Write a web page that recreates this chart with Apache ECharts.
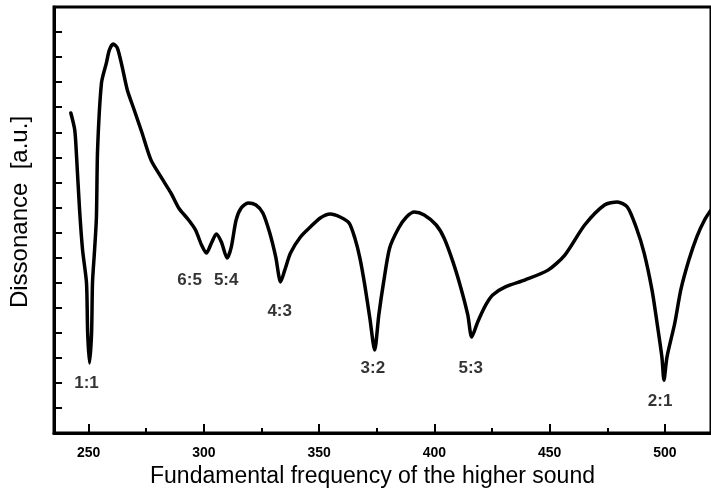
<!DOCTYPE html>
<html>
<head>
<meta charset="utf-8">
<script src="https://cdn.jsdelivr.net/npm/echarts@6/dist/echarts.min.js"></script>
<style>
html, body { margin: 0; padding: 0; background: #fff; }
#chart1 { width: 711px; height: 495px; }
</style>
</head>
<body>
<div id="chart1"></div>
<script>
// curve: fundamental frequency (Hz) and dissonance (a.u.)
var freq = [242.3, 244.0, 244.8, 246.1, 247.4, 249.1, 249.6, 250.4, 251.3, 251.7,
    252.6, 253.4, 253.9, 255.6, 257.7, 259.0, 260.7, 262.5,
    264.6, 266.8, 269.8, 273.2, 277.1, 281.4, 285.7, 289.1, 293.4, 296.4,
    299.0, 301.1, 303.3, 305.4, 307.6, 310.1, 311.9, 314.0, 316.2, 319.2,
    322.6, 325.6, 328.6, 331.2, 333.3, 335.1, 337.6, 341.9, 346.2, 350.5,
    354.8, 359.1, 363.0, 365.5, 367.7, 369.8, 372.0, 374.1, 375.9, 378.0,
    380.6, 384.5, 387.9, 391.3, 395.6, 400.8, 404.2, 408.1, 411.5, 414.5,
    416.2, 418.8, 422.3, 425.3, 430.8, 439.4, 449.3, 456.6, 465.2, 473.8,
    479.4, 483.7, 487.5, 491.0, 494.4, 496.6, 498.7, 499.6, 500.9, 504.3,
    506.9, 510.4, 513.8, 517.2, 520];
var diss = [12.77, 12.09, 11.01, 8.90, 7.30, 5.99, 3.99, 2.79, 3.99, 5.99,
    7.30, 8.60, 11.29, 13.97, 14.76, 15.28, 15.52, 15.36,
    14.60, 13.69, 12.89, 11.97, 10.89, 10.22, 9.58, 8.98, 8.50, 8.10,
    7.50, 7.18, 7.58, 7.94, 7.62, 6.98, 7.42, 8.50, 8.98, 9.18,
    9.10, 8.78, 7.98, 7.02, 6.03, 6.50, 7.18, 7.82, 8.22, 8.58,
    8.74, 8.62, 8.38, 7.78, 6.98, 5.91, 4.59, 3.31, 4.71, 6.03,
    7.38, 8.18, 8.62, 8.82, 8.70, 8.30, 7.78, 6.82, 5.79, 4.71,
    3.83, 4.43, 5.11, 5.51, 5.83, 6.11, 6.50, 7.10, 8.30, 9.10,
    9.22, 9.02, 8.22, 7.18, 5.71, 4.39, 3.03, 2.11, 3.03, 4.39,
    5.71, 6.90, 7.82, 8.50, 8.9];

// interval names and where their labels sit
var ratioNames = ['1:1', '6:5', '5:4', '4:3', '3:2', '5:3', '2:1'];
var ratioX = [249.1, 293.8, 309.7, 332.9, 373.3, 415.8, 497.9];
var ratioY = [1.98, 6.1, 6.1, 4.87, 2.59, 2.59, 1.28];

// x ticks: labelled ones and the small ones between
var majorTicks = [250, 300, 350, 400, 450, 500];
var minorTicks = [275, 325, 375, 425, 475];

var xMin = 235, xMax = 520;
var yMin = 0, yMax = 17;

var dom1 = document.getElementById("chart1");
var myChart1 = echarts.init(dom1);

var curveData = freq.map(function (f, i) { return [f, diss[i]]; });
var labelData = ratioNames.map(function (n, i) {
    return {name: n, value: [ratioX[i], ratioY[i]]};
});

var fontName = 'Liberation Sans';

option = {
    animation: false,
    backgroundColor: '#fff',
    grid: {
        left: 54,
        right: -7,
        top: 7,
        bottom: 62,
        show: true,
        borderColor: '#000',
        borderWidth: 3
    },
    xAxis: [
        {
            type: 'value',
            min: xMin,
            max: xMax,
            name: 'Fundamental frequency of the higher sound',
            nameLocation: 'middle',
            nameGap: 31,
            nameTextStyle: {
                fontFamily: fontName,
                fontSize: 23,
                color: '#000',
                padding: [0, 20, 0, 0]
            },
            axisLine: {lineStyle: {color: '#000', width: 3}},
            axisTick: {inside: true, length: 9, customValues: majorTicks,
                lineStyle: {color: '#000', width: 2}},
            axisLabel: {
                margin: 13,
                customValues: majorTicks,
                fontFamily: fontName,
                fontSize: 14,
                fontWeight: 'bold',
                color: '#000'
            },
            splitLine: {show: false}
        },
        {
            // small ticks between the labelled ones
            type: 'value',
            position: 'bottom',
            min: xMin,
            max: xMax,
            axisLine: {show: false},
            axisTick: {inside: true, length: 5, customValues: minorTicks,
                lineStyle: {color: '#000', width: 2}},
            axisLabel: {show: false},
            splitLine: {show: false}
        }
    ],
    yAxis: {
        type: 'value',
        min: yMin,
        max: yMax,
        interval: 1,
        name: 'Dissonance  [a.u.]',
        nameLocation: 'middle',
        nameGap: 22,
        nameTextStyle: {
            fontFamily: fontName,
            fontSize: 24,
            color: '#000',
            padding: [0, 0, 0, 16]
        },
        axisLine: {lineStyle: {color: '#000', width: 3}},
        axisTick: {inside: true, length: 8, lineStyle: {color: '#000', width: 2}},
        axisLabel: {show: false},
        splitLine: {show: false}
    },
    series: [
        {
            type: 'line',
            xAxisIndex: 0,
            data: curveData,
            smooth: 0.25,
            showSymbol: false,
            clip: true,
            lineStyle: {color: '#000', width: 3.5, join: 'round', cap: 'round'},
            silent: true
        },
        {
            type: 'scatter',
            xAxisIndex: 0,
            data: labelData,
            symbolSize: 0,
            silent: true,
            label: {
                show: true,
                position: 'inside',
                formatter: '{b}',
                fontFamily: fontName,
                fontSize: 17,
                fontWeight: 'bold',
                color: '#000'
            }
        }
    ]
};
myChart1.setOption(option, true);
</script>
</body>
</html>
